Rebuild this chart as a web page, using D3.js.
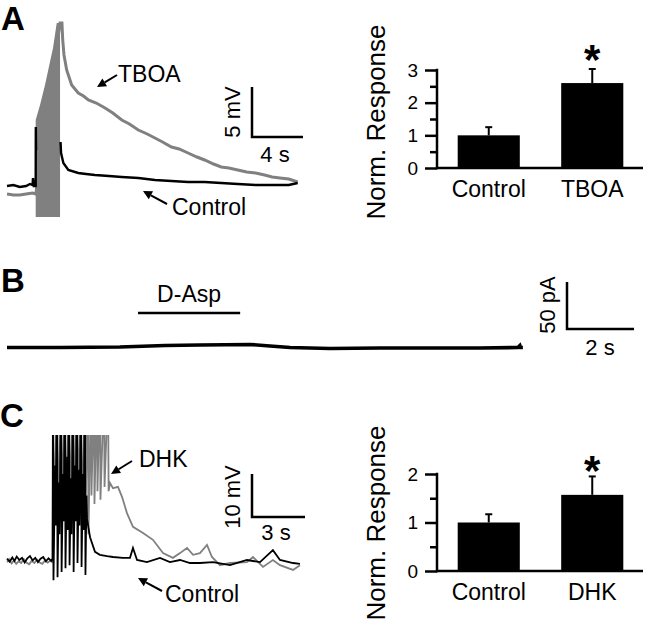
<!DOCTYPE html>
<html><head><meta charset="utf-8">
<script src="https://cdn.jsdelivr.net/npm/d3@7"></script>
<style>
body{margin:0;background:#fff}
svg{display:block}
text{font-family:"Liberation Sans",Arial,Helvetica,sans-serif;fill:#000}
</style>
</head><body>
<svg id="fig" width="646" height="622"></svg>
<script>
// ---------- Panel A traces (t in s, v in mV) ----------
const tboaTrace = [[0,0],[0.5,-0.1],[1.0,-0.1],[1.5,0.0],[2.0,0.1],[2.26,0],
  [4.16,17.1],[4.31,17.1],[4.37,15.4],[4.47,13.9],[4.68,12.4],[5.07,10.9],[5.59,10.1],[6.0,9.8],[6.38,9.4],
  [7.0,9.1],[7.69,8.6],[8.3,8.1],[9.0,7.4],[9.6,7.0],[10.3,6.4],[11.0,6.0],[11.6,5.6],[12.2,5.2],[12.9,4.7],
  [13.5,4.5],[14.2,4.1],[14.9,3.7],[15.5,3.4],[16.2,3.0],[16.8,2.7],[17.4,2.6],[18.1,2.4],[18.8,2.2],
  [19.5,2.1],[20.2,1.9],[20.8,1.7],[21.4,1.6],[22.1,1.5],[22.8,1.2]];
const tboaBlockT   = [2.25, 2.59, 2.98, 3.37, 3.61, 3.90, 4.16];
const tboaBlockTop = [7.4, 8.9, 10.9, 13.2, 14.6, 17.1, 17.1];
const tboaBlockBottom = -2.3;
const ctrlTraceA = [[0,0.8],[0.5,0.9],[1.0,0.7],[1.5,0.8],[1.8,1.0],[2.0,0.9],[2.04,1.6],[2.1,0.8],[2.25,0.8],
  [2.26,6.7],[2.28,4.4],[null,null],
  [4.2,5.2],[4.24,4.1],[4.42,3.1],[4.81,2.4],[5.59,2.1],[6.2,2.0],[6.9,1.9],[8.0,1.8],[9.0,1.7],[10.3,1.6],[11.6,1.4],
  [12.9,1.3],[14.2,1.2],[15.5,1.2],[16.8,1.1],[18.1,1.0],[19.5,0.9],[20.8,0.9],[22.1,0.9],[22.8,1.1]];

// ---------- Panel B trace (t in s, I in pA) ----------
const daspTrace = [[0,-0.5],[1.58,-0.5],[3.37,0],[4.72,1.6],[5.76,2.1],[7.25,2.7],[7.85,1.1],
  [8.45,-0.5],[9.64,-1.6],[11.13,-1.1],[12.63,-1.1],[14.1,-1.1],[15.25,-0.5],[15.31,1.6],[15.33,-0.5],[15.4,-0.5]];
const daspBar = [3.91, 6.96];

// ---------- Panel C traces (t in s, v in mV) ----------
const ctrlPreC = [[0,0.3],[0.15,-0.4],[0.3,0.6],[0.42,-0.2],[0.55,0.8],[0.7,0],[0.85,0.5],[1.0,-0.6],[1.15,0.4],
  [1.3,0.9],[1.45,-0.1],[1.6,0.5],[1.75,-0.5],[1.9,0.3],[2.05,0.7],[2.2,-0.3],[2.35,0.4],[2.5,-0.2],[2.58,0.3]];
const dhkPreC = [[0,-0.5],[0.12,0.2],[0.26,-0.8],[0.4,-0.1],[0.52,-0.9],[0.66,-0.3],[0.8,-0.7],[0.95,0.2],[1.1,-0.6],
  [1.25,-1.0],[1.4,-0.2],[1.55,-0.7],[1.7,0.1],[1.85,-0.6],[2.0,-0.9],[2.15,-0.1],[2.3,-0.6],[2.45,-0.2],[2.58,-0.5]];
const spikePeak = 40;
const ctrlSpikeT      = [2.60,2.72,2.83,2.94,3.06,3.17,3.28,3.40,3.51,3.62,3.74,3.85,3.96,4.07,4.19,4.30,4.41,4.50];
const ctrlSpikePeak   = [40,22,40,18,40,20,40,24,40,19,40,22,40,21,40,20,40,15];
const ctrlSpikeTrough = [-4.7,8,-4.0,6,-2.8,9,-1.9,7,-1.2,6,-2.8,9,-0.7,8,-1.6,7,-3.5,10];
const ctrlPostC = [[4.51,10.0],[4.70,5.3],[4.98,1.9],[5.26,1.2],[5.66,0.9],[6.0,0.7],[6.56,0.5],[6.96,0.5],
  [7.13,2.8],[7.36,0],[7.92,-0.5],[8.66,0.5],[9.22,-0.5],[9.79,0],[10.36,-0.7],[10.92,-0.7],[11.66,-0.5],
  [12.62,-1.2],[13.58,0],[14.32,-0.5],[15.05,2.3],[15.45,0],[16.19,-0.7],[16.58,-0.9]];
const dhkSpikeT      = [2.62,2.85,3.07,3.30,3.52,3.75,3.97,4.19,4.42,4.58,4.75,4.92,5.09,5.26,5.49,5.72];
const dhkSpikeTrough = [10,8,12,9,11,10,13,9,12,6,15,13,16,14,17,16];
const dhkPostC = [[5.83,17.9],[6.0,16.7],[6.28,17.0],[6.51,14.7],[6.79,10.9],[7.13,7.7],[7.70,6.3],[8.26,4.7],
  [8.83,1.6],[9.39,0.5],[9.79,1.6],[10.19,2.8],[10.53,1.2],[10.92,1.6],[11.32,3.5],[11.60,0.7],[12.05,-1.2],
  [12.62,-0.7],[13.58,-0.5],[13.92,0.7],[14.49,-1.6],[15.05,0],[15.45,-1.2],[16.19,-2.3],[16.58,-1.2]];

// ---------- Bar charts ----------
const barCatsA = ["Control","TBOA"];
const barValsA = [1.0, 2.6];
const barErrA  = [0.25, 0.43];
const barTicksA = [0,1,2,3];
const barCatsC = ["Control","DHK"];
const barValsC = [1.0, 1.57];
const barErrC  = [0.17, 0.38];
const barTicksC = [0,1,2];

// ---------- Scale bars ----------
const scaleA = {v:5, t:4, vLabel:"5 mV", tLabel:"4 s"};
const scaleB = {v:50, t:2, vLabel:"50 pA", tLabel:"2 s"};
const scaleC = {v:10, t:3, vLabel:"10 mV", tLabel:"3 s"};

const svg = d3.select("#fig");
const GRAY = "#808080";

// ===== Panel labels =====
[["A",1,30],["B",1,292],["C",0,427]].forEach(([s,x,y])=>{
  svg.append("text").attr("x",x).attr("y",y).attr("font-size",33).attr("font-weight","bold").text(s);
});

function arrow(x1,y1,x2,y2){
  const ang = Math.atan2(y2-y1,x2-x1), L=9, W=4.5;
  const bx = x2 - L*Math.cos(ang), by = y2 - L*Math.sin(ang);
  svg.append("line").attr("x1",x1).attr("y1",y1).attr("x2",bx).attr("y2",by)
    .attr("stroke","#000").attr("stroke-width",2);
  const px = -Math.sin(ang)*W, py = Math.cos(ang)*W;
  svg.append("path").attr("d",`M${x2},${y2}L${bx+px},${by+py}L${bx-px},${by-py}Z`).attr("fill","#000");
}

function scaleBar(cx, cy, xs, ys, sb, vlx, vly, tlx, tly){
  const h = ys(0)-ys(sb.v), w = xs(sb.t)-xs(0);
  svg.append("path").attr("d",`M${cx},${cy-h}V${cy}H${cx+w}`)
    .attr("fill","none").attr("stroke","#000").attr("stroke-width",2.5);
  svg.append("text").attr("transform",`translate(${vlx},${vly}) rotate(-90)`)
    .attr("text-anchor","middle").attr("font-size",22).text(sb.vLabel);
  svg.append("text").attr("x",tlx).attr("y",tly).attr("text-anchor","middle").attr("font-size",22).text(sb.tLabel);
}

// ===== Panel A trace =====
const xA = d3.scaleLinear().domain([0,22.8]).range([7,297.7]);
const yA = d3.scaleLinear().domain([0,10]).range([194,94]);
const lineA = d3.line().defined(d=>d[0]!==null).x(d=>xA(d[0])).y(d=>yA(d[1]));
svg.append("path").datum(tboaTrace).attr("d",lineA).attr("fill","none").attr("stroke",GRAY).attr("stroke-width",3);
const blockData = tboaBlockT.map((t,i)=>[t,tboaBlockTop[i]]);
svg.append("path").datum(blockData)
  .attr("d",d3.area().x(d=>xA(d[0])).y0(yA(tboaBlockBottom)).y1(d=>yA(d[1])))
  .attr("fill",GRAY);
svg.append("path").datum(ctrlTraceA).attr("d",lineA).attr("fill","none").attr("stroke","#000").attr("stroke-width",2.4);
svg.append("text").attr("x",118).attr("y",82).attr("font-size",23).text("TBOA");
arrow(117,75,97,87);
svg.append("text").attr("x",172).attr("y",215).attr("font-size",23).text("Control");
arrow(167,204,143,191);
scaleBar(252,137,xA,yA,scaleA,240,112,275,162);

// ===== Panel B =====
const xB = d3.scaleLinear().domain([0,15.4]).range([7,522.9]);
const yB = d3.scaleLinear().domain([0,50]).range([347,300]);
svg.append("path").datum(daspTrace).attr("d",d3.line().x(d=>xB(d[0])).y(d=>yB(d[1])))
  .attr("fill","none").attr("stroke","#000").attr("stroke-width",3.6);
svg.append("line").attr("x1",xB(daspBar[0])).attr("x2",xB(daspBar[1])).attr("y1",313).attr("y2",313)
  .attr("stroke","#000").attr("stroke-width",2.5);
svg.append("text").attr("x",(xB(daspBar[0])+xB(daspBar[1]))/2).attr("y",302).attr("text-anchor","middle")
  .attr("font-size",23).text("D-Asp");
scaleBar(567,329,xB,yB,scaleB,555,305,600,355);

// ===== Panel C trace =====
const xC = d3.scaleLinear().domain([0,16.6]).range([7,300.3]);
const yC = d3.scaleLinear().domain([0,10]).range([560,517]);
svg.append("defs").append("clipPath").attr("id","clipC").append("rect")
  .attr("x",0).attr("y",435).attr("width",330).attr("height",187);
const lineC = d3.line().x(d=>xC(d[0])).y(d=>yC(d[1]));
function spikePts(pre, T, P, Tr, post){
  const pts = pre.slice();
  T.forEach((t,i)=>{ pts.push([t, P[i]]); pts.push([t+0.03, Tr[i]]); });
  return pts.concat(post);
}
const dhkPts  = spikePts(dhkPreC, dhkSpikeT, dhkSpikeT.map(()=>spikePeak), dhkSpikeTrough, dhkPostC);
const ctrlPts = spikePts(ctrlPreC, ctrlSpikeT, ctrlSpikePeak, ctrlSpikeTrough, ctrlPostC);
const gC = svg.append("g").attr("clip-path","url(#clipC)");
gC.append("path").datum(dhkPts).attr("d",lineC).attr("fill","none").attr("stroke",GRAY).attr("stroke-width",1.8);
gC.append("path").datum(ctrlPts).attr("d",lineC).attr("fill","none").attr("stroke","#000").attr("stroke-width",1.8);
svg.append("text").attr("x",139).attr("y",467).attr("font-size",23).text("DHK");
arrow(132,461,111,474);
svg.append("text").attr("x",165).attr("y",602).attr("font-size",23).text("Control");
arrow(162,591,138,578);
scaleBar(252,517,xC,yC,scaleC,240,497,276,540);

// ===== Bar charts =====
function barChart(cats, vals, errs, ticks, y0px, y1px, labelY, starY, ylabY){
  const maxT = ticks[ticks.length-1];
  const y = d3.scaleLinear().domain([0,maxT]).range([y0px,y1px]);
  const x = d3.scaleBand().domain(cats).range([437,644]).paddingInner(0.4).paddingOuter(0.2);
  const g = svg.append("g");
  g.selectAll("rect.bar").data(cats).join("rect").attr("class","bar")
    .attr("x",d=>x(d)).attr("width",x.bandwidth())
    .attr("y",(d,i)=>y(vals[i])).attr("height",(d,i)=>y(0)-y(vals[i])).attr("fill","#000");
  cats.forEach((c,i)=>{
    const cx = x(c)+x.bandwidth()/2;
    g.append("line").attr("x1",cx).attr("x2",cx).attr("y1",y(vals[i])).attr("y2",y(vals[i]+errs[i]))
      .attr("stroke","#000").attr("stroke-width",2);
    g.append("line").attr("x1",cx-3.5).attr("x2",cx+3.5).attr("y1",y(vals[i]+errs[i])).attr("y2",y(vals[i]+errs[i]))
      .attr("stroke","#000").attr("stroke-width",2);
  });
  g.append("text").attr("x",x(cats[1])+x.bandwidth()/2).attr("y",starY).attr("text-anchor","middle")
    .attr("font-size",42).attr("font-weight","bold").text("*");
  const major = d3.axisLeft(y).tickValues(ticks).tickSize(12).tickPadding(7).tickFormat(d3.format("d"));
  const minorVals = ticks.slice(0,-1).map(t=>t+0.5);
  const minor = d3.axisLeft(y).tickValues(minorVals).tickSize(7).tickFormat("");
  const ga = g.append("g").attr("transform","translate(437,0)").call(major);
  ga.select(".domain").remove();
  ga.selectAll("line").attr("stroke","#000").attr("stroke-width",2.5);
  ga.selectAll("text").attr("font-size",19).attr("font-family","'Liberation Sans',Arial,sans-serif").attr("fill","#000");
  const gm = g.append("g").attr("transform","translate(437,0)").call(minor);
  gm.select(".domain").remove();
  gm.selectAll("line").attr("stroke","#000").attr("stroke-width",2.5);
  g.append("line").attr("x1",437).attr("x2",437).attr("y1",y(0)+1.25).attr("y2",y(maxT)-1.25)
    .attr("stroke","#000").attr("stroke-width",2.5);
  g.append("line").attr("x1",437).attr("x2",643).attr("y1",y(0)).attr("y2",y(0))
    .attr("stroke","#000").attr("stroke-width",2.5);
  cats.forEach(c=>{
    g.append("text").attr("x",x(c)+x.bandwidth()/2).attr("y",labelY).attr("text-anchor","middle")
      .attr("font-size",23).text(c);
  });
  g.append("text").attr("transform",`translate(385,${ylabY}) rotate(-90)`).attr("text-anchor","middle")
    .attr("font-size",26).text("Norm. Response");
}
barChart(barCatsA, barValsA, barErrA, barTicksA, 168, 70, 197, 74, 122);
barChart(barCatsC, barValsC, barErrC, barTicksC, 571, 474, 600, 485, 523);
</script>
</body></html>
